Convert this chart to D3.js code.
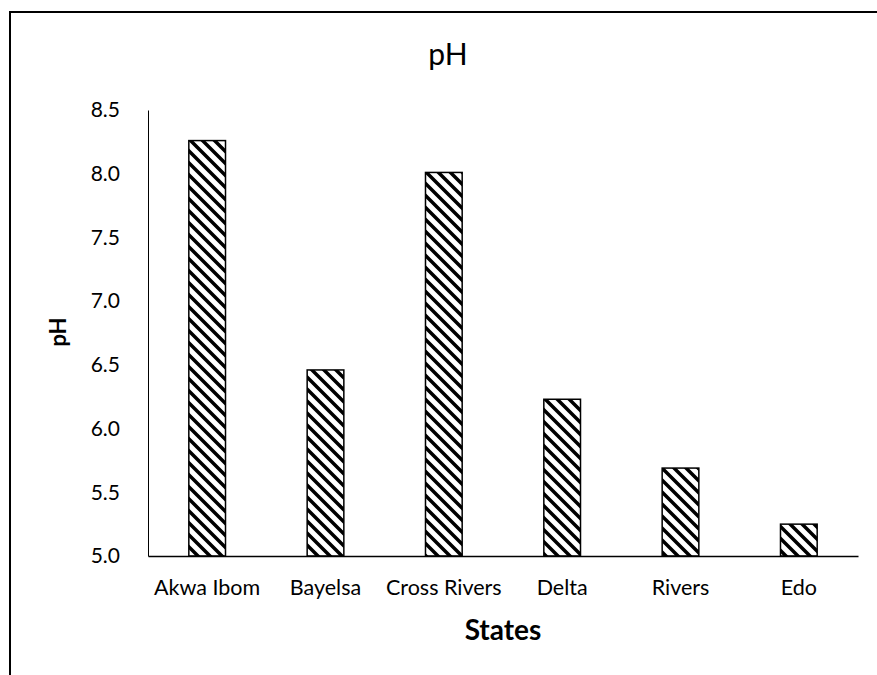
<!DOCTYPE html>
<html>
<head>
<meta charset="utf-8">
<script src="https://cdn.jsdelivr.net/npm/d3@7"></script>
<style>
  body { margin: 0; background: #fff; }
  svg text { font-family: Lato, "Noto Sans", sans-serif; fill: #000; }
</style>
</head>
<body>
<div class="chart"></div>
<script>
'use strict';

const states = ['Akwa Ibom', 'Bayelsa', 'Cross Rivers', 'Delta', 'Rivers', 'Edo'];
const phValues = [8.26, 6.46, 8.01, 6.23, 5.69, 5.25];
const yTicks = [5.0, 5.5, 6.0, 6.5, 7.0, 7.5, 8.0, 8.5];

const W = 877, H = 675;
const margin = {top: 110, right: 19, bottom: 119, left: 148};
const width = W - margin.left - margin.right;
const height = H - margin.top - margin.bottom;
const hatchSize = 12;

const svg = d3.select('.chart').append('svg')
    .attr('width', W)
    .attr('height', H);

// hatch pattern (wide downward diagonal)
const pat = svg.append('defs').append('pattern')
    .attr('id', 'hatch')
    .attr('patternUnits', 'userSpaceOnUse')
    .attr('width', hatchSize)
    .attr('height', hatchSize);
pat.append('rect').attr('width', hatchSize).attr('height', hatchSize).attr('fill', '#fff');
pat.append('path')
    .attr('d', `M-3,-3 L${hatchSize + 3},${hatchSize + 3} M-3,${hatchSize - 3} L3,${hatchSize + 3} M${hatchSize - 3},-3 L${hatchSize + 3},3`)
    .attr('stroke', '#000')
    .attr('stroke-width', 3.5);

// chart frame (right/bottom edges fall outside the picture)
svg.append('rect')
    .attr('x', 10).attr('y', 12)
    .attr('width', 900).attr('height', 700)
    .attr('fill', 'none')
    .attr('stroke', '#000')
    .attr('stroke-width', 2);

const g = svg.append('g')
    .attr('transform', `translate(${margin.left},${margin.top})`);

const x = d3.scaleBand()
    .domain(states)
    .range([0, width])
    .paddingInner(0.69)
    .paddingOuter(0.345);

const y = d3.scaleLinear()
    .domain([5, 8.5])
    .range([height, 0]);

// bars
g.selectAll('.bar')
    .data(states)
    .enter().append('rect')
    .attr('class', 'bar')
    .attr('x', d => x(d))
    .attr('y', (d, i) => y(phValues[i]))
    .attr('width', x.bandwidth())
    .attr('height', (d, i) => height - y(phValues[i]))
    .attr('fill', 'url(#hatch)')
    .attr('stroke', '#000')
    .attr('stroke-width', 1.5);

// y axis
const yAxis = g.append('g')
    .call(d3.axisLeft(y).tickValues(yTicks).tickFormat(d3.format('.1f')).tickSize(0).tickPadding(28));
yAxis.select('.domain').attr('stroke', '#000').attr('stroke-width', 1);
yAxis.selectAll('text').style('font-size', '21px');

// x axis
const xAxis = g.append('g')
    .attr('transform', `translate(0,${height})`)
    .call(d3.axisBottom(x).tickSize(0).tickPadding(24));
xAxis.select('.domain').attr('stroke', '#000').attr('stroke-width', 1.5);
xAxis.selectAll('text').style('font-size', '21.5px');

// titles
svg.append('text')
    .attr('x', 448).attr('y', 65)
    .attr('text-anchor', 'middle')
    .style('font-size', '30px')
    .text('pH');

svg.append('text')
    .attr('transform', `translate(66,332) rotate(-90)`)
    .attr('text-anchor', 'middle')
    .style('font-size', '22px')
    .style('font-weight', 'bold')
    .text('pH');

svg.append('text')
    .attr('x', 503).attr('y', 640)
    .attr('text-anchor', 'middle')
    .style('font-size', '28px')
    .style('font-weight', 'bold')
    .text('States');
</script>
</body>
</html>
